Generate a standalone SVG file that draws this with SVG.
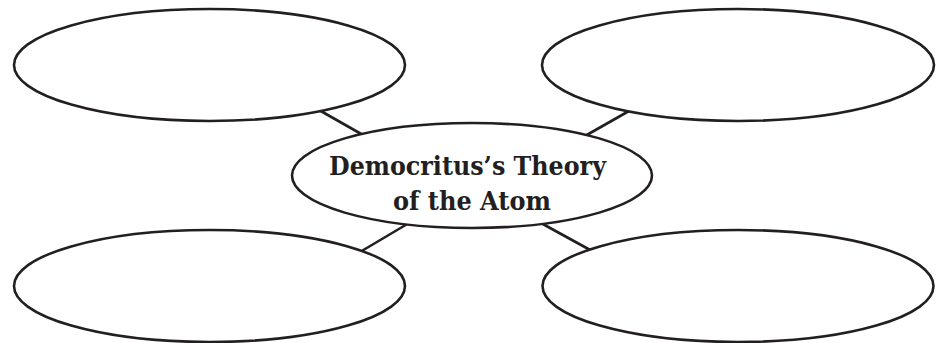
<svg xmlns="http://www.w3.org/2000/svg" width="938" height="343" viewBox="0 0 938 343">
<style>
.shape{fill:#fff;stroke:#231f20;stroke-width:2.6}
.conn line{stroke:#231f20;stroke-width:2.6}
.label{font-family:"DejaVu Serif","Liberation Serif",serif;font-weight:bold;font-size:26px;fill:#231f20;text-anchor:middle}
</style>
<rect width="938" height="343" fill="#fff"/>
<g id="connectors" class="conn">
<line x1="319" y1="110" x2="363" y2="135"/>
<line x1="629" y1="111" x2="585" y2="136"/>
<line x1="409" y1="223" x2="360" y2="252"/>
<line x1="541" y1="223" x2="592" y2="251"/>
</g>
<g id="node-top-left"><ellipse class="shape" cx="209.5" cy="65" rx="195.5" ry="56"/></g>
<g id="node-top-right"><ellipse class="shape" cx="738" cy="65" rx="196" ry="56"/></g>
<g id="node-bottom-left"><ellipse class="shape" cx="209.5" cy="286" rx="195.5" ry="56"/></g>
<g id="node-bottom-right"><ellipse class="shape" cx="738" cy="286" rx="195.5" ry="56"/></g>
<g id="node-center">
<ellipse class="shape" cx="472" cy="175.5" rx="180" ry="52.5"/>
<text class="label" x="467.5" y="175" textLength="277" lengthAdjust="spacingAndGlyphs">Democritus’s Theory</text>
<text class="label" x="472" y="210" textLength="158" lengthAdjust="spacingAndGlyphs">of the Atom</text>
</g>
</svg>
